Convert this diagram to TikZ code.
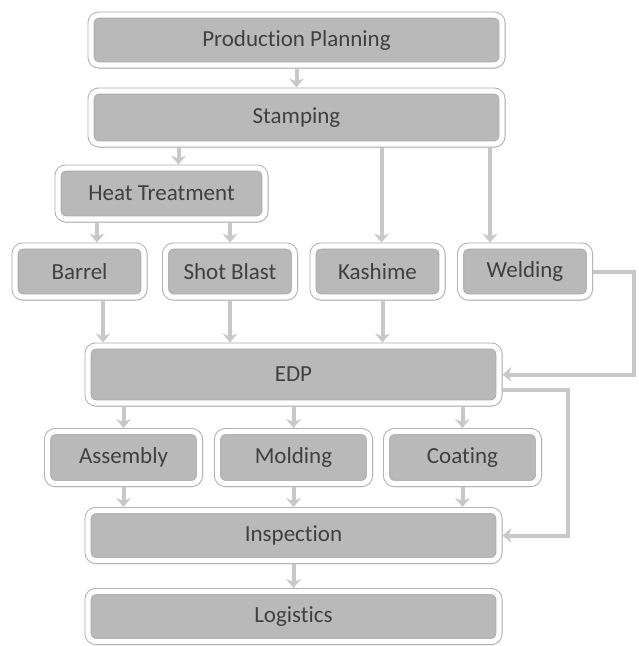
\documentclass[tikz,border=0pt]{standalone}
\usepackage{fontspec}
\setmainfont{Carlito}[Ligatures=NoCommon]
\usetikzlibrary{arrows.meta,positioning,shadows.blur}
\definecolor{boxfill}{RGB}{185,185,185}
\definecolor{boxedge}{RGB}{170,170,170}
\definecolor{flowgray}{RGB}{200,200,200}
\definecolor{textgray}{RGB}{64,64,64}

\begin{document}
\begin{tikzpicture}[x=1pt, y=-1pt, font=\fontsize{23}{27}\selectfont, text=textgray]
\tikzstyle{box}=[rectangle, rounded corners=8pt, fill=boxfill, draw=boxedge, line width=0.9pt, double=white, double distance=5.2pt, outer sep=3.5pt, blur shadow={shadow xshift=1pt, shadow yshift=-1.5pt, shadow blur radius=3pt, shadow opacity=40}]
\tikzstyle{flow}=[draw=flowgray, line width=4pt, -{Stealth[length=9pt, width=15pt, inset=3pt]}]
\useasboundingbox (0,0) rectangle (638,646);

% planning and stamping
\node[box, minimum width=411pt, minimum height=50pt] (pp) at (296.5,40) {Production Planning};
\node[box, minimum width=411pt, minimum height=53pt] (stamp) [below of=pp, node distance=77.5pt] {Stamping};
\node[box, minimum width=207pt, minimum height=51pt] (ht) at (161.5,193.5) {Heat Treatment};

% second row
\tikzstyle{every node}=[minimum width=129pt, minimum height=51pt]
\node[box] (barrel) at (79.5,271.5) {Barrel};
\node[box] (shot) [right of=barrel, node distance=150.5pt] {Shot Blast};
\node[box] (kash) [right of=shot, node distance=147.5pt] {Kashime};
\node[box] (weld) [right of=kash, node distance=147.5pt] {Welding};

\tikzstyle{every node}=[minimum width=411pt, minimum height=57pt]
\node[box] (edp) at (293.5,374.5) {EDP};

% third row
\tikzstyle{every node}=[minimum width=152pt, minimum height=52pt]
\node[box] (asm) at (123.5,457.5) {Assembly};
\node[box] (mold) [right of=asm, node distance=170pt] {Molding};
\node[box] (coat) [right of=mold, node distance=169pt] {Coating};

\tikzstyle{every node}=[minimum width=411pt, minimum height=50pt]
\node[box] (insp) at (293.5,535.5) {Inspection};
\node[box] (logi) [below of=insp, node distance=81pt] {Logistics};

\draw[flow] (pp) -- (stamp);
\draw[flow, transform canvas={xshift=17pt}] (stamp.south -| ht.north) -- (ht.north);
\draw[flow, transform canvas={xshift=4pt}] (stamp.south -| kash.north) -- (kash.north);
\draw[flow, transform canvas={xshift=-35pt}] (stamp.south -| weld.north) -- (weld.north);
\draw[flow, transform canvas={xshift=17.5pt}] (ht.south -| barrel.north) -- (barrel.north);
\draw[flow] (ht.south -| shot.north) -- (shot.north);

\draw[flow, transform canvas={xshift=23.5pt}] (barrel.south) -- (edp.north -| barrel.south);
\draw[flow] (shot.south) -- (edp.north -| shot.south);
\draw[flow, transform canvas={xshift=5pt}] (kash.south) -- (edp.north -| kash.south);
\draw[flow] (weld.east) -- ++(41,0) |- (edp.east);

\draw[flow] (edp.south -| asm.north) -- (asm.north);
\draw[flow] (edp.south -| mold.north) -- (mold.north);
\draw[flow] (edp.south -| coat.north) -- (coat.north);
\draw[flow] ([yshift=-15.5pt]edp.east) -- ++(65,0) |- (insp.east);

\draw[flow] (asm.south) -- (insp.north -| asm.south);
\draw[flow] (mold.south) -- (insp.north -| mold.south);
\draw[flow] (coat.south) -- (insp.north -| coat.south);
\draw[flow] (insp) -- (logi);
\end{tikzpicture}
\end{document}
